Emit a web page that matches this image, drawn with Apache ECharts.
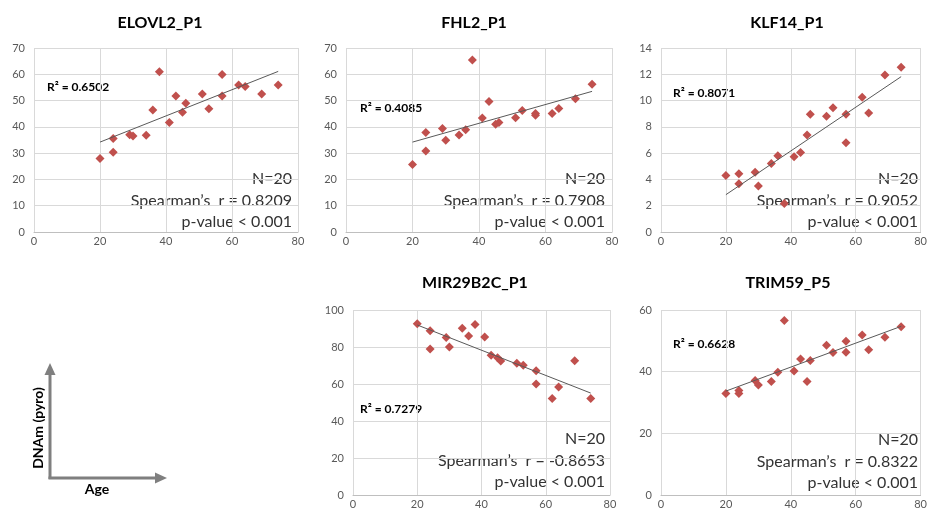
<!DOCTYPE html>
<html>
<head>
<meta charset="utf-8">
<script src="https://cdn.jsdelivr.net/npm/echarts@6/dist/echarts.min.js"></script>
<style>
  body { margin: 0; background: #fff; }
  #chart { width: 930px; height: 516px; }
</style>
</head>
<body>
<div id="chart"></div>
<script>
// ages of the 20 samples (same for every panel)
const ages = [20, 24, 24, 29, 30, 34, 36, 38, 41, 43, 45, 46, 51, 53, 57, 57, 62, 64, 69, 74];

// DNAm values
const elovl2 = [28, 35.6, 30.3, 37, 36.5, 36.8, 46.4, 61, 41.7, 51.7, 45.6, 49, 52.5, 46.9, 59.9, 51.7, 55.9, 55.4, 52.5, 55.9];
const fhl2 = [25.7, 37.9, 30.8, 39.4, 34.9, 36.9, 38.9, 65.4, 43.4, 49.6, 41, 41.7, 43.5, 46.2, 45.1, 44.4, 45.1, 47, 50.7, 56.2];
const klf14 = [4.29, 4.44, 3.68, 4.54, 3.5, 5.22, 5.81, 2.16, 5.73, 6.04, 7.38, 8.95, 8.8, 9.46, 8.95, 6.8, 10.25, 9.05, 11.95, 12.53];
const mir29b2c = [92.6, 88.8, 78.9, 85.2, 80, 90.1, 85.9, 92.1, 85.4, 75.5, 74.2, 72.4, 71.2, 70.1, 67.2, 60, 52.1, 58.4, 72.6, 52.1];
const trim59 = [32.9, 33.9, 32.9, 37.1, 35.7, 36.8, 39.8, 56.6, 40.2, 44.1, 36.8, 43.6, 48.6, 46.2, 49.9, 46.3, 51.9, 47.1, 51.2, 54.6];

// trendline end points (age 20 and age 74)
const trendAges = [20, 74];
const elovl2Trend = [34.2, 61.1];
const fhl2Trend = [34.2, 53.5];
const klf14Trend = [2.84, 11.82];
const mir29b2cTrend = [91.9, 55.1];
const trim59Trend = [33.7, 54.7];

const names = ['ELOVL2_P1', 'FHL2_P1', 'KLF14_P1', 'MIR29B2C_P1', 'TRIM59_P5'];
const r2Labels = ['R\u00b2 = 0.6502', 'R\u00b2 = 0.4085', 'R\u00b2 = 0.8071', 'R\u00b2 = 0.7279', 'R\u00b2 = 0.6628'];
const spearman = ['0.8209', '0.7908', '0.9052', '-0.8653', '0.8322'];
const yMax = [70, 70, 14, 100, 60];
const yStep = [10, 10, 2, 20, 20];
const xTicks = [0, 20, 40, 60, 80];

const values = [elovl2, fhl2, klf14, mir29b2c, trim59];
const trends = [elovl2Trend, fhl2Trend, klf14Trend, mir29b2cTrend, trim59Trend];

// layout of each panel
const grids = [
    { left: 34, top: 48, width: 264, height: 184 },
    { left: 346, top: 48, width: 266, height: 184 },
    { left: 661, top: 48, width: 262, height: 184 },
    { left: 353, top: 310, width: 257, height: 185 },
    { left: 661, top: 310, width: 263, height: 185 }
];
const titlePos = [[160, 15], [474, 15], [787, 15], [475, 275], [788, 275]];
const r2Pos = [[47, 87], [360, 108], [673, 93], [360, 409], [673, 344]];
const statPos = [[292, 179], [605, 179], [918, 179], [605, 439], [918, 440]];

const FONT = 'Lato, "Open Sans", sans-serif';
const RED = '#C0504D';

const myChart = echarts.init(document.getElementById('chart'));

const xAxis = [], yAxis = [], series = [], titles = [], graphic = [];

grids.forEach((g, i) => {
    titles.push({
        text: names[i],
        left: titlePos[i][0],
        top: titlePos[i][1],
        textAlign: 'center',
        padding: 0,
        textStyle: { fontFamily: FONT, fontSize: 16, fontWeight: 'bold', color: '#000' }
    });
    xAxis.push({
        gridIndex: i, type: 'value', min: xTicks[0], max: xTicks[xTicks.length - 1], interval: 20,
        axisLine: { show: true, lineStyle: { color: '#BFBFBF' } },
        axisTick: { show: false },
        axisLabel: { color: '#595959', fontFamily: FONT, fontSize: 11, margin: 4 },
        splitLine: { show: true, lineStyle: { color: '#D9D9D9' } }
    });
    yAxis.push({
        gridIndex: i, type: 'value', min: 0, max: yMax[i], interval: yStep[i],
        axisLine: { show: false },
        axisTick: { show: false },
        axisLabel: { color: '#595959', fontFamily: FONT, fontSize: 11, margin: 9 },
        splitLine: { show: true, lineStyle: { color: '#D9D9D9' } }
    });
    series.push({
        type: 'line', xAxisIndex: i, yAxisIndex: i,
        data: trendAges.map((a, k) => [a, trends[i][k]]),
        symbol: 'none', silent: true,
        lineStyle: { color: '#595959', width: 1 }
    });
    series.push({
        type: 'scatter', xAxisIndex: i, yAxisIndex: i,
        data: ages.map((a, k) => [a, values[i][k]]),
        symbol: 'diamond', symbolSize: [9, 9],
        itemStyle: { color: RED, opacity: 1 }
    });
    graphic.push({
        type: 'text', x: r2Pos[i][0], y: r2Pos[i][1],
        style: { text: r2Labels[i], font: 'bold 12px ' + FONT, fill: '#000', textVerticalAlign: 'middle' }
    });
    const lines = ['N=20', 'Spearman\u2019s  r = ' + spearman[i], 'p-value < 0.001'];
    lines.forEach((t, k) => {
        graphic.push({
            type: 'text', x: statPos[i][0], y: statPos[i][1] + k * 21.5,
            style: { text: t, font: '16px ' + FONT, fill: '#333', textAlign: 'right', textVerticalAlign: 'middle' }
        });
    });
});

// axis key in the lower-left corner
const KEY = '#7F7F7F';
graphic.push(
    { type: 'line', shape: { x1: 50, y1: 479, x2: 50, y2: 372 }, style: { stroke: KEY, lineWidth: 3 } },
    { type: 'polygon', shape: { points: [[50, 363], [44.5, 375], [55.5, 375]] }, style: { fill: KEY } },
    { type: 'line', shape: { x1: 48.5, y1: 478, x2: 158, y2: 478 }, style: { stroke: KEY, lineWidth: 3 } },
    { type: 'polygon', shape: { points: [[167, 478], [155, 472.5], [155, 483.5]] }, style: { fill: KEY } },
    {
        type: 'text', x: 38, y: 428, rotation: Math.PI / 2,
        style: { text: 'DNAm (pyro)', font: 'bold 14px ' + FONT, fill: '#000', textAlign: 'center', textVerticalAlign: 'middle' }
    },
    {
        type: 'text', x: 97, y: 489,
        style: { text: 'Age', font: 'bold 14px ' + FONT, fill: '#000', textAlign: 'center', textVerticalAlign: 'middle' }
    }
);

myChart.setOption({
    animation: false,
    backgroundColor: '#fff',
    title: titles,
    grid: grids,
    xAxis: xAxis,
    yAxis: yAxis,
    series: series,
    graphic: graphic
});

window.onresize = () => myChart.resize();
</script>
</body>
</html>
